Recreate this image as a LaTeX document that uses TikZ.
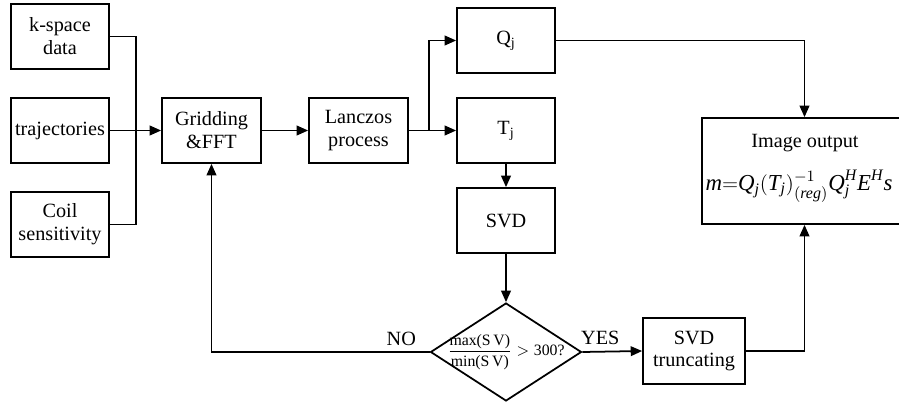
\documentclass[tikz,border=0pt]{standalone}
\usepackage{amsmath}
\usepackage{fontspec}
\setmainfont{Liberation Serif}
\usetikzlibrary{arrows.meta,shapes.geometric}
\newcommand{\itl}[1]{\textit{#1}}
\begin{document}
\begin{tikzpicture}[
  x=0.02cm, y=-0.02cm,
  stepbox/.style={draw, line width=1pt, align=center, inner sep=0pt,
    font=\fontsize{11.5}{13}\selectfont},
  decision/.style={draw, line width=1pt, diamond, inner sep=0pt, aspect=1.54,
    minimum width=3.02cm, minimum height=1.96cm},
  flow/.style={line width=1pt, -{Triangle[length=6.5pt,width=5.5pt]}},
  wire/.style={line width=1pt},
  tag/.style={font=\fontsize{11.5}{13}\selectfont},
]
\useasboundingbox (0,0) rectangle (899,402);

% inputs on the left, top to bottom
\node[stepbox, minimum width=1.96cm, minimum height=1.3cm] (kspace) at (60,36.5)  {k-space\\data};
\node[stepbox, minimum width=1.96cm, minimum height=1.3cm] (traj)   at (60,130.5) {trajectories};
\node[stepbox, minimum width=1.96cm, minimum height=1.3cm] (coil)   at (60,224.5) {Coil\\sensitivity};

% main chain
\node[stepbox, minimum width=1.98cm, minimum height=1.3cm] (grid)    at (211.5,130.5) {Gridding\\\&FFT};
\node[stepbox, minimum width=1.98cm, minimum height=1.3cm] (lanczos) at (358.5,130.5) {Lanczos\\process};
\node[stepbox, minimum width=1.96cm, minimum height=1.3cm] (qj)  at (506,40.5)  {Q\textsubscript{j}};
\node[stepbox, minimum width=1.96cm, minimum height=1.3cm] (tj)  at (506,130.5) {T\textsubscript{j}};
\node[stepbox, minimum width=1.96cm, minimum height=1.3cm] (svd) at (506,220.5) {SVD};

% check on the singular values
\node[decision] (chk) at (506,352) {};
\node[font=\fontsize{9}{10}\selectfont, inner sep=0pt] (chktext) at (chk.center)
  {$\displaystyle\frac{\mbox{max(S\,V)}}{\mbox{min(S\,V)}}>\mbox{300?}$};
\node[stepbox, minimum width=2.04cm, minimum height=1.32cm] (trunc) at (694,351) {SVD\\truncating};

% output, cut by the right edge
\node[stepbox, minimum width=4.1cm, minimum height=2.12cm] (out) at (804.5,171) {};
\node[tag] (outtitle) at (805,143) {Image output};
\node[font=\fontsize{13}{15}\selectfont] (outeq) at (799,186)
  {$\itl{m}{=}\itl{Q}_{\itl{j}}(\itl{T}_{\itl{j}})^{-1}_{(\itl{reg})}\itl{Q}_{\itl{j}}^{\itl{H}}\itl{E}^{\itl{H}}\itl{s}$};

% junctions
\coordinate (bus)   at (136,130.5);
\coordinate (split) at (429,130.5);

% connectors
\draw[wire] (kspace.east) -| (bus) |- (coil.east);
\draw[flow] (traj.east) -- (grid.west);
\draw[flow] (grid.east) -- (lanczos.west);
\draw[flow] (lanczos.east) -- (tj.west);
\draw[flow] (split) |- (qj.west);
\draw[flow] (tj.south) -- (svd.north);
\draw[flow] (svd.south) -- (chk.north);
\draw[flow] (qj.east) -| (out.north);
\draw[flow] (chk.east) -- node[tag, above, pos=0.3] (yes) {YES} (trunc.west);
\draw[flow] (trunc.east) -| (out.south);
\draw[flow] (chk.west) -- node[tag, above, pos=0.13] (no) {NO} (chk.west -| grid.south) -- (grid.south);
\end{tikzpicture}
\end{document}
